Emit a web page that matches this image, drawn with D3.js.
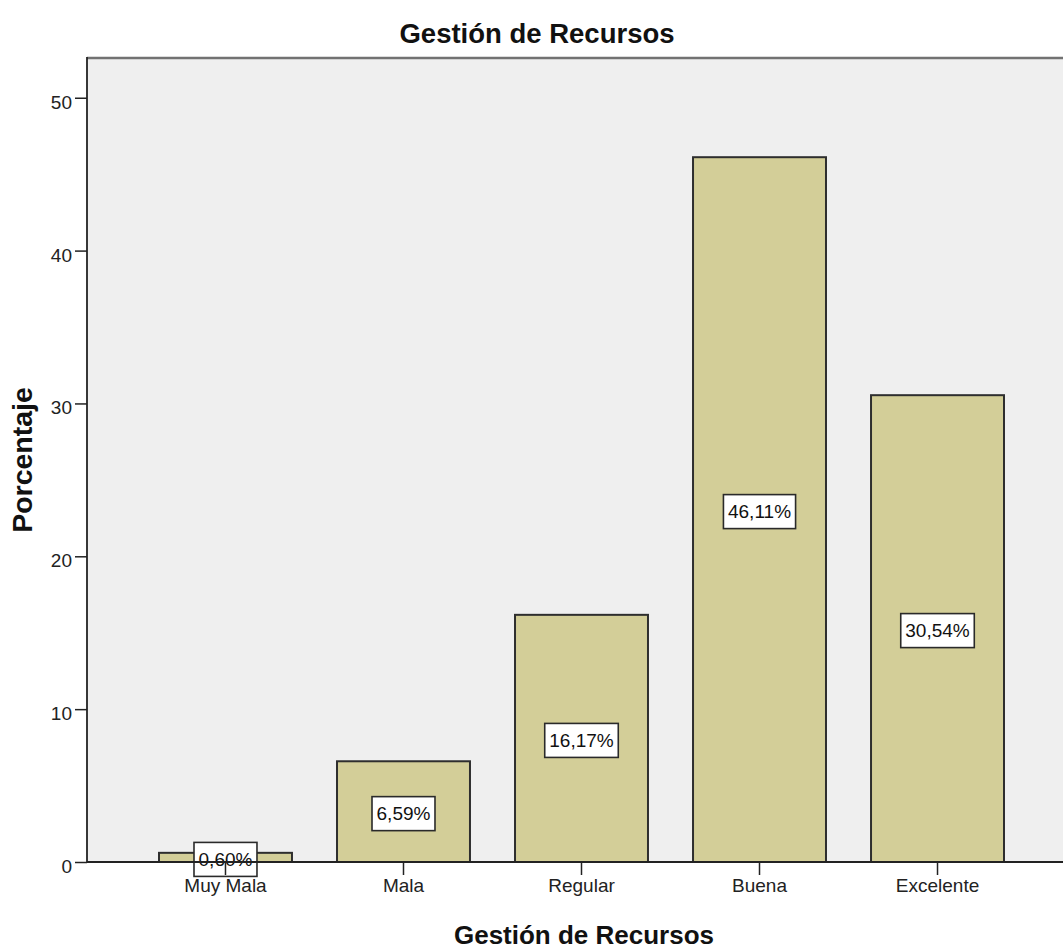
<!DOCTYPE html>
<html>
<head>
<meta charset="utf-8">
<script src="https://cdn.jsdelivr.net/npm/d3@7"></script>
<style>
  html, body { margin: 0; padding: 0; background: #fff; }
  svg { display: block; font-family: "Liberation Sans", Arial, sans-serif; }
</style>
</head>
<body>
<svg id="chart" width="1063" height="950"></svg>
<script>
// Distribución porcentual de la variable "Gestión de Recursos"
const categories = ["Muy Mala", "Mala", "Regular", "Buena", "Excelente"];
const percentages = [0.60, 6.59, 16.17, 46.11, 30.54];
const valueLabels = ["0,60%", "6,59%", "16,17%", "46,11%", "30,54%"];
const yTicks = [0, 10, 20, 30, 40, 50];

const chartTitle = "Gestión de Recursos";
const xTitle = "Gestión de Recursos";
const yTitle = "Porcentaje";

const svg = d3.select("#chart");
const plot = { left: 87, top: 58, bottom: 862, right: 1076 };

const x = d3.scaleBand()
  .domain(categories)
  .range([plot.left, plot.right])
  .paddingInner(0.253)
  .paddingOuter(0.4045);

const y = d3.scaleLinear()
  .domain([0, 52.6])
  .range([plot.bottom, plot.top]);

// plot background
svg.append("rect")
  .attr("x", plot.left).attr("y", plot.top)
  .attr("width", plot.right - plot.left)
  .attr("height", plot.bottom - plot.top)
  .attr("fill", "#efefef");

// top frame line
svg.append("line")
  .attr("x1", plot.left).attr("x2", plot.right)
  .attr("y1", plot.top).attr("y2", plot.top)
  .attr("stroke", "#727272").attr("stroke-width", 2.5);

// bars
svg.append("g").selectAll("rect")
  .data(categories)
  .join("rect")
  .attr("x", d => x(d))
  .attr("y", (d, i) => y(percentages[i]))
  .attr("width", x.bandwidth())
  .attr("height", (d, i) => y(0) - y(percentages[i]))
  .attr("fill", "#d3ce98")
  .attr("stroke", "#2e2e2e")
  .attr("stroke-width", 2);

// value labels in boxes at mid-height of each bar
const lab = svg.append("g").selectAll("g")
  .data(categories)
  .join("g")
  .attr("transform", (d, i) => {
    const cy = (y(percentages[i]) + y(0)) / 2 + 2;
    return `translate(${x(d) + x.bandwidth() / 2},${cy})`;
  });

lab.append("text")
  .attr("text-anchor", "middle")
  .attr("dy", "0.36em")
  .attr("font-size", 19)
  .attr("fill", "#111")
  .text((d, i) => valueLabels[i]);

lab.each(function () {
  const g = d3.select(this);
  const bb = g.select("text").node().getBBox();
  const w = bb.width + 9, h = 34;
  g.insert("rect", "text")
    .attr("x", -w / 2).attr("y", -h / 2)
    .attr("width", w).attr("height", h)
    .attr("fill", "#fff")
    .attr("stroke", "#2a2a2a")
    .attr("stroke-width", 1.6);
});

// y axis
const yAxis = svg.append("g")
  .attr("transform", `translate(${plot.left},0)`)
  .call(d3.axisLeft(y).tickValues(yTicks).tickSize(12).tickPadding(3).tickFormat(d3.format("d")));
yAxis.select(".domain").remove();
yAxis.selectAll(".tick line").attr("stroke", "#222").attr("stroke-width", 1.5);
yAxis.selectAll(".tick text")
  .attr("font-size", 19)
  .attr("font-family", "'Liberation Sans', Arial, sans-serif")
  .attr("fill", "#222")
  .attr("dy", "0.55em");
svg.append("line")
  .attr("x1", plot.left).attr("x2", plot.left)
  .attr("y1", plot.top - 1).attr("y2", plot.bottom)
  .attr("stroke", "#222").attr("stroke-width", 1.8);

// x axis
const xAxis = svg.append("g")
  .attr("transform", `translate(0,${plot.bottom})`)
  .call(d3.axisBottom(x).tickSize(13).tickPadding(4));
xAxis.select(".domain").remove();
xAxis.selectAll(".tick line").attr("stroke", "#222").attr("stroke-width", 1.5);
xAxis.selectAll(".tick text")
  .attr("font-size", 19)
  .attr("font-family", "'Liberation Sans', Arial, sans-serif")
  .attr("fill", "#222");
svg.append("line")
  .attr("x1", plot.left).attr("x2", plot.right)
  .attr("y1", plot.bottom).attr("y2", plot.bottom)
  .attr("stroke", "#222").attr("stroke-width", 1.8);

// titles
svg.append("text")
  .attr("x", 537).attr("y", 43)
  .attr("text-anchor", "middle")
  .attr("font-size", 27.5).attr("font-weight", "bold")
  .attr("fill", "#111")
  .text(chartTitle);

svg.append("text")
  .attr("x", 584).attr("y", 944)
  .attr("text-anchor", "middle")
  .attr("font-size", 26).attr("font-weight", "bold")
  .attr("fill", "#111")
  .text(xTitle);

svg.append("text")
  .attr("transform", `translate(32,${(plot.top + plot.bottom) / 2}) rotate(-90)`)
  .attr("text-anchor", "middle")
  .attr("font-size", 28.5).attr("font-weight", "bold")
  .attr("fill", "#111")
  .text(yTitle);
</script>
</body>
</html>
